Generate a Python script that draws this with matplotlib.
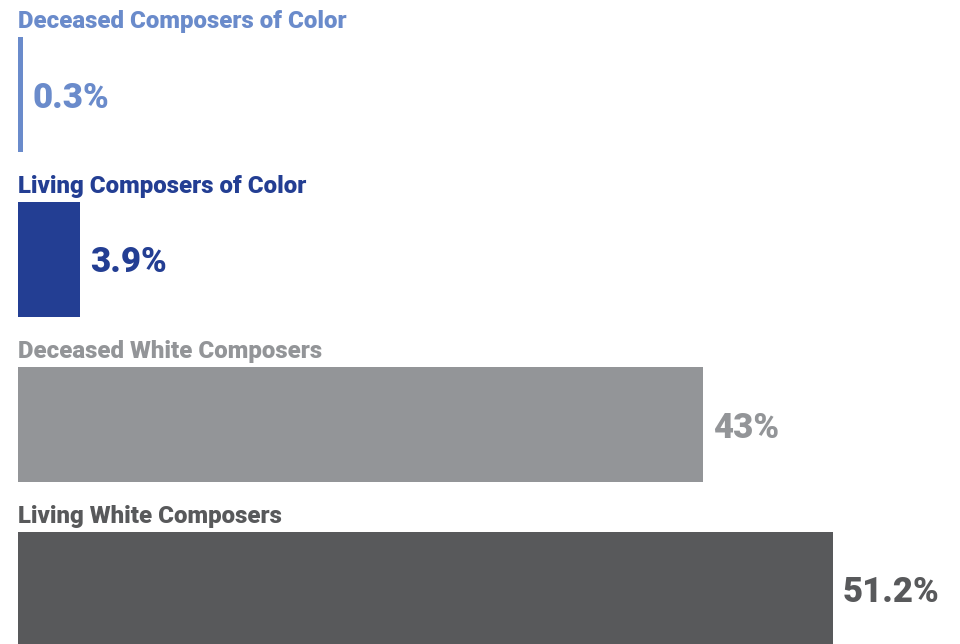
import matplotlib.pyplot as plt

# Data
categories = [
    "Deceased Composers of Color",
    "Living Composers of Color",
    "Deceased White Composers",
    "Living White Composers",
]
values = [0.3, 3.9, 43, 51.2]
value_labels = ["0.3%", "3.9%", "43%", "51.2%"]
colors = ["#6a8bcb", "#233e93", "#939598", "#58595b"]

plt.rcParams["font.family"] = ["Roboto", "DejaVu Sans"]

fig = plt.figure(figsize=(9.6, 6.44), dpi=100)
ax = fig.add_axes([18 / 960, 0, 1 - 18 / 960, 1])

px_per_unit = 15.92
ax.set_xlim(0, 942 / px_per_unit)
spacing = 165.0
first_center = 94.5
ax.set_ylim((644 - first_center) / spacing, -first_center / spacing)

ypos = list(range(len(categories)))
ax.barh(ypos, values, height=115 / spacing, color=colors, align="center")

for i, (cat, val, lab, col) in enumerate(zip(categories, values, value_labels, colors)):
    ax.text(0, i - 73 / spacing, cat, color=col, fontsize=17.3, fontweight=900,
            va="center", ha="left")
    ax.text(val + 10 / px_per_unit, i, lab, color=col, fontsize=25,
            fontweight=900, va="center_baseline", ha="left")

ax.axis("off")
fig.savefig("out.png", dpi=100)
